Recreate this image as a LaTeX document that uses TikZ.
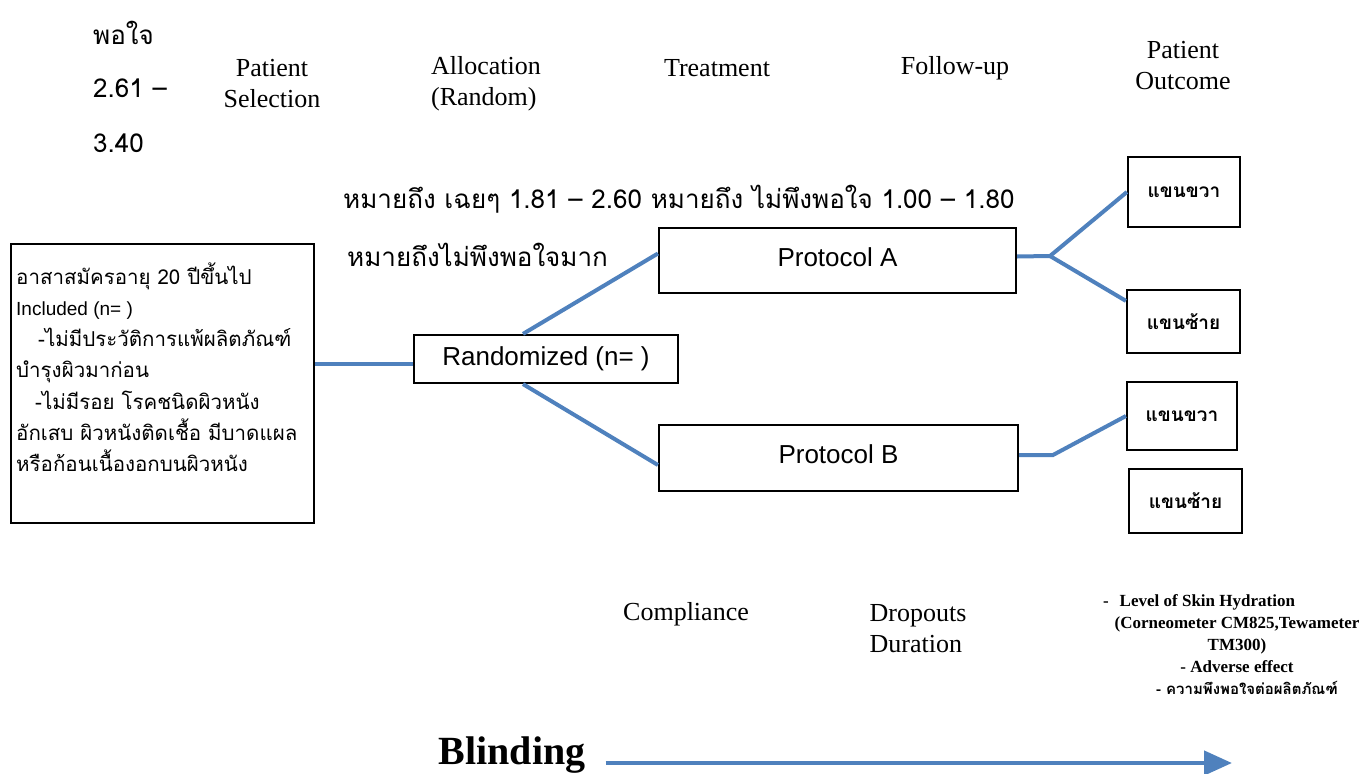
\documentclass[tikz,border=0pt]{standalone}
\usepackage{fontspec}
\setmainfont{Liberation Serif}
\setsansfont{Liberation Sans}
\newfontfamily\thai[Script=Thai]{Loma}
\usetikzlibrary{arrows.meta}
\definecolor{lineblue}{HTML}{4F81BD}
\tikzset{
  box/.style={draw=black, line width=2.2pt, inner sep=0pt, fill=white},
  conn/.style={draw=lineblue, line width=4pt},
  lbl/.style={inner sep=0pt, font=\fontsize{26}{31}\selectfont, align=center},
  thaitxt/.style={inner sep=0pt, font=\thai\fontsize{26}{31}\selectfont},
  sanstxt/.style={font=\sffamily\fontsize{26}{31}\selectfont},
  armtxt/.style={font=\thai\bfseries\fontsize{19}{22}\selectfont},
}
\begin{document}
\begin{tikzpicture}[x=1pt,y=-1pt]
\useasboundingbox (0,0) rectangle (1364,773);

% top-left Thai fragment
\node[thaitxt, anchor=west] (t1) at (93,33) {พอใจ};
\node[thaitxt, anchor=west] (t2) at (93,88) {2.61 –};
\node[thaitxt, anchor=west] (t3) at (93,143) {3.40};
\node[thaitxt, anchor=west] (t4) at (343,199) {หมายถึง เฉยๆ 1.81 – 2.60 หมายถึง ไม่พึงพอใจ 1.00 – 1.80};
\node[thaitxt, anchor=west] (t5) at (347,255) {หมายถึงไม่พึงพอใจมาก};

% column headings
\node[lbl] (h1) at (272,84) {Patient\\Selection};
\node[lbl, align=left] (h2) at (486,84) {Allocation\\(Random)};
\node[lbl] (h3) at (717,68) {Treatment};
\node[lbl] (h4) at (955,68) {Follow-up};
\node[lbl] (h5) at (1183,66) {Patient\\Outcome};

% boxes
\node[box, minimum width=303pt, minimum height=279pt, anchor=north west] (sel) at (10,243) {};
\node[anchor=west, inner sep=0pt, align=left, font=\thai\fontsize{20.5}{31.2}\selectfont] (seltxt) at (16,367)
 {อาสาสมัครอายุ 20 ปีขึ้นไป\\
  {\sffamily\fontsize{19}{31.2}\selectfont Included (n= )}\\
  \hspace*{22pt}-ไม่มีประวัติการแพ้ผลิตภัณฑ์\\
  บำรุงผิวมาก่อน\\
  \hspace*{19pt}-ไม่มีรอย โรคชนิดผิวหนัง\\
  อักเสบ ผิวหนังติดเชื้อ มีบาดแผล\\
  หรือก้อนเนื้องอกบนผิวหนัง};

\node[box, sanstxt, minimum width=264pt, minimum height=48pt] (rand) at (546,359) {Randomized (n= )};
\node[box, sanstxt, minimum width=357pt, minimum height=65pt] (pA) at (837.5,260.5) {\raisebox{6pt}{Protocol A}};
\node[box, sanstxt, minimum width=359pt, minimum height=66pt] (pB) at (838.5,458) {\raisebox{7pt}{Protocol B}};

\node[box, armtxt, minimum width=112pt, minimum height=70pt] (r1) at (1184,192) {แขนขวา};
\node[box, armtxt, minimum width=113pt, minimum height=63pt] (l1) at (1183.5,321.5) {แขนซ้าย};
\node[box, armtxt, minimum width=110pt, minimum height=68pt] (r2) at (1182,416) {แขนขวา};
\node[box, armtxt, minimum width=113pt, minimum height=64pt] (l2) at (1185.5,501) {แขนซ้าย};

% connectors
\coordinate (ja) at (1050,256);
\coordinate (jb) at (1053,455);
\coordinate (rw) at ([yshift=-5pt]rand.west);
\draw[conn] (rw -| sel.east) -- (rw);
\draw[conn] ([xshift=-23pt]rand.north) -- ([yshift=7pt]pA.west);
\draw[conn] ([xshift=-23pt]rand.south) -- ([yshift=-7pt]pB.west);
\draw[conn] ([yshift=4pt]pA.east) -- (ja) -- (r1.west);
\draw[conn] (ja) -- ([yshift=-12pt]l1.north west);
\draw[conn] ([yshift=3pt]pB.east) -- (jb) -- (r2.west);

% bottom texts
\node[inner sep=0pt, align=center, font=\bfseries\fontsize{17}{22}\selectfont] (b3) at (1237,645)
 {-\hspace{11pt}Level of Skin Hydration\hspace*{76pt}\\
  (Corneometer CM825,Tewameter\\
  TM300)\\
  - Adverse effect\\
  \hspace*{20pt}{\thai\fontsize{15}{26}\selectfont - ความพึงพอใจต่อผลิตภัณฑ์}};
\node[lbl] (b1) at (686,614) {Compliance};
\node[lbl, align=left] (b2) at (918,629) {Dropouts\\Duration};

% blinding arrow
\node[inner sep=0pt, font=\bfseries\fontsize{40}{46}\selectfont] (blind) at (512,755) {Blinding};
\coordinate (bend) at (1232,763);
\draw[conn, line width=4.5pt, -{Triangle[length=28pt,width=24pt]}] ([xshift=20pt,yshift=-8pt]blind.east) -- (bend);
\end{tikzpicture}
\end{document}
